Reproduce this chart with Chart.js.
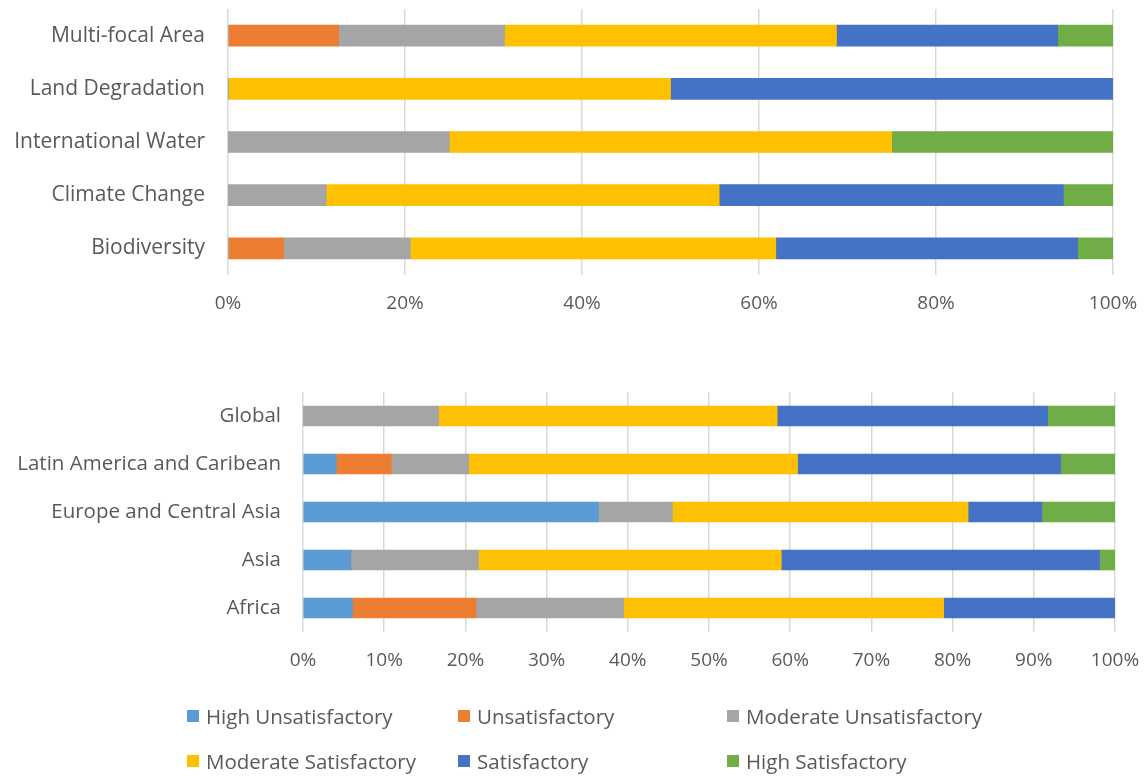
<!DOCTYPE html>
<html>
<head>
<meta charset="utf-8">
<script src="https://cdn.jsdelivr.net/npm/chart.js@4.4.0/dist/chart.umd.min.js"></script>
<style>
  body { margin: 0; background: #fff; width: 1147px; height: 776px; position: relative; overflow: hidden; font-family: "Open Sans", sans-serif; }
  #topWrap { position: absolute; left: 0; top: 0; width: 1147px; height: 330px; }
  #bottomWrap { position: absolute; left: 0; top: 330px; width: 1147px; height: 350px; }
  #legend { position: absolute; left: 0; top: 0; width: 1147px; height: 776px; pointer-events: none; }
  .item { position: absolute; display: flex; align-items: center; color: #595959; font-size: 20.5px; white-space: nowrap; }
  .box { width: 12px; height: 12px; margin-right: 7px; }
</style>
</head>
<body>
<div id="topWrap"><canvas id="areaChart" width="1147" height="330"></canvas></div>
<div id="bottomWrap"><canvas id="regionChart" width="1147" height="350"></canvas></div>
<div id="legend"></div>
<script>
// series names and colours
const seriesNames = ['High Unsatisfactory', 'Unsatisfactory', 'Moderate Unsatisfactory',
                     'Moderate Satisfactory', 'Satisfactory', 'High Satisfactory'];
const seriesColors = ['#5B9BD5', '#ED7D31', '#A5A5A5', '#FFC000', '#4472C4', '#70AD47'];

// top chart: focal areas (percent of projects)
const areaLabels = ['Multi-focal Area', 'Land Degradation', 'International Water', 'Climate Change', 'Biodiversity'];
const areaHighUnsat = [0, 0, 0, 0, 0];
const areaUnsat = [12.5, 0, 0, 0, 6.3];
const areaModUnsat = [18.75, 0, 25, 11.1, 14.3];
const areaModSat = [37.5, 50, 50, 44.4, 41.3];
const areaSat = [25, 50, 0, 38.9, 34.1];
const areaHighSat = [6.25, 0, 25, 5.6, 4.0];

// bottom chart: regions (percent of projects)
const regionLabels = ['Global', 'Latin America and Caribean', 'Europe and Central Asia', 'Asia', 'Africa'];
const regionHighUnsat = [0, 4.1, 36.4, 5.9, 6.1];
const regionUnsat = [0, 6.8, 0, 0, 15.2];
const regionModUnsat = [16.7, 9.5, 9.1, 15.7, 18.2];
const regionModSat = [41.7, 40.5, 36.4, 37.3, 39.4];
const regionSat = [33.3, 32.4, 9.1, 39.2, 21.2];
const regionHighSat = [8.3, 6.8, 9.1, 1.9, 0];

const textColor = '#595959';
const fontFamily = '"Open Sans", sans-serif';

function buildDatasets(seriesData) {
    return seriesData.map((data, i) => ({
        label: seriesNames[i],
        data: data,
        backgroundColor: seriesColors[i],
        borderWidth: 0
    }));
}

// drop the extra room chart.js reserves for the first/last tick labels
function clearPadding(scale) {
    scale.paddingTop = 0;
    scale.paddingBottom = 0;
    scale.paddingLeft = 0;
    scale.paddingRight = 0;
}

function makeChart(canvasId, labels, seriesData, step, box) {
    const ctx = document.getElementById(canvasId).getContext('2d');
    return new Chart(ctx, {
        type: 'bar',
        data: { labels: labels, datasets: buildDatasets(seriesData) },
        options: {
            indexAxis: 'y',
            responsive: false,
            animation: false,
            barThickness: box.bar,
            layout: { padding: { top: box.top, right: box.right, bottom: 0, left: 0 } },
            plugins: { legend: { display: false }, tooltip: { enabled: false } },
            scales: {
                x: {
                    stacked: true,
                    min: 0,
                    max: 100,
                    border: { display: false },
                    grid: { color: '#D9D9D9', lineWidth: 1.5, drawTicks: false },
                    ticks: {
                        stepSize: step,
                        padding: box.tickPad,
                        color: textColor,
                        font: { family: fontFamily, size: box.tickSize },
                        callback: v => v + '%'
                    },
                    afterFit: scale => { scale.height = box.xHeight; clearPadding(scale); }
                },
                y: {
                    stacked: true,
                    border: { display: false },
                    grid: { display: false, drawTicks: false },
                    ticks: {
                        padding: box.labelPad,
                        color: textColor,
                        font: { family: fontFamily, size: box.labelSize }
                    },
                    afterFit: scale => { scale.width = box.yWidth; clearPadding(scale); }
                }
            }
        }
    });
}

makeChart('areaChart', areaLabels,
    [areaHighUnsat, areaUnsat, areaModUnsat, areaModSat, areaSat, areaHighSat], 20,
    { top: 9, right: 34, yWidth: 228, xHeight: 55, bar: 21, tickPad: 17, tickSize: 19, labelPad: 23, labelSize: 21 });

makeChart('regionChart', regionLabels,
    [regionHighUnsat, regionUnsat, regionModUnsat, regionModSat, regionSat, regionHighSat], 10,
    { top: 62, right: 32, yWidth: 303, xHeight: 48, bar: 20, tickPad: 17, tickSize: 19, labelPad: 22, labelSize: 20.5 });

// legend shared by both charts, 3 columns x 2 rows
const legendCols = [187, 458, 727];
const legendRows = [716, 761];
const legend = document.getElementById('legend');
seriesNames.forEach((name, i) => {
    const item = document.createElement('div');
    item.className = 'item';
    item.style.left = legendCols[i % 3] + 'px';
    item.style.top = (legendRows[Math.floor(i / 3)] - 14) + 'px';
    item.innerHTML = '<span class="box" style="background:' + seriesColors[i] + '"></span>' + name;
    legend.appendChild(item);
});
</script>
</body>
</html>
